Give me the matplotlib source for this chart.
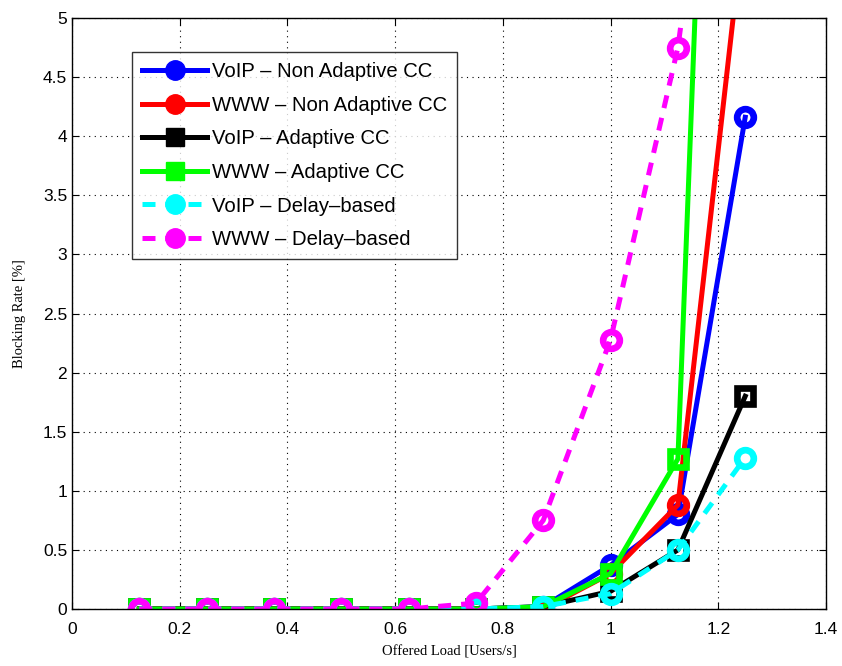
import matplotlib
matplotlib.use("Agg")
import matplotlib.pyplot as plt

load = [0.125, 0.25, 0.375, 0.5, 0.625, 0.75, 0.875, 1.0, 1.125, 1.25]
voip_nonadaptive = [0, 0, 0, 0, 0, 0, 0.02, 0.37, 0.80, 4.16]
www_nonadaptive = [0, 0, 0, 0, 0, 0, 0.0, 0.30, 0.88, 5.9]
voip_adaptive = [0, 0, 0, 0, 0, 0, 0.02, 0.15, 0.50, 1.80]
www_adaptive = [0, 0, 0, 0, 0, 0, 0.02, 0.30, 1.27, 16.0]
voip_delay = [0, 0, 0, 0, 0, 0, 0.02, 0.13, 0.50, 1.28]
www_delay = [0, 0, 0, 0, 0, 0.05, 0.75, 2.28, 4.75, 9.0]

labels = ["VoIP \u2013 Non Adaptive CC", "WWW \u2013 Non Adaptive CC",
          "VoIP \u2013 Adaptive CC", "WWW \u2013 Adaptive CC",
          "VoIP \u2013 Delay\u2013based", "WWW \u2013 Delay\u2013based"]
xticks = [0, 0.2, 0.4, 0.6, 0.8, 1.0, 1.2, 1.4]
xticklabels = ["0", "0.2", "0.4", "0.6", "0.8", "1", "1.2", "1.4"]
yticks = [0, 0.5, 1, 1.5, 2, 2.5, 3, 3.5, 4, 4.5, 5]
yticklabels = ["0", "0.5", "1", "1.5", "2", "2.5", "3", "3.5", "4", "4.5", "5"]

plt.rcParams['font.family'] = ['Liberation Sans', 'DejaVu Sans']

fig = plt.figure(figsize=(8.42, 6.66), dpi=100)
ax = fig.add_axes([72/842, 57/666, 754/842, 591/666])

series = [
    (voip_nonadaptive, 'blue', 'o', '-'),
    (www_nonadaptive, 'red', 'o', '-'),
    (voip_adaptive, 'black', 's', '-'),
    (www_adaptive, '#00ff00', 's', '-'),
    (voip_delay, 'cyan', 'o', (0, (2.6, 2.0))),
    (www_delay, 'magenta', 'o', (0, (2.6, 2.0))),
]
handles = []
for (vals, col, mk, ls), lab in zip(series, labels):
    ax.plot(load, vals, color=col, lw=3.6, ls=ls, marker=mk,
            ms=12 if mk == 'o' else 11, mfc='none', mec=col, mew=4.8)
    h, = ax.plot([], [], color=col, lw=3.6, ls=ls, marker=mk,
                 ms=14 if mk == 'o' else 13, mfc=col, mec=col, label=lab)
    handles.append(h)

ax.set_xlim(0, 1.4)
ax.set_ylim(0, 5)
ax.set_xticks(xticks)
ax.set_xticklabels(xticklabels)
ax.set_yticks(yticks)
ax.set_yticklabels(yticklabels)
ax.tick_params(direction='in', labelsize=12.5, length=5, top=True, right=True)
ax.tick_params(axis='x', pad=9)
ax.grid(True, color='black', ls=(0, (1, 4)), lw=0.8)
for s in ax.spines.values():
    s.set_linewidth(1.0)

ax.set_xlabel("Offered Load [Users/s]", family=['Liberation Serif'], fontsize=10.5, labelpad=6)
ax.set_ylabel("Blocking Rate [%]", family=['Liberation Serif'], fontsize=10.5, labelpad=12)

leg = ax.legend(handles=handles, loc='upper left', bbox_to_anchor=(0.0796, 0.9425),
                fontsize=14.6, frameon=True, fancybox=False, edgecolor='black',
                handlelength=3.2, borderaxespad=0, labelspacing=0.72, borderpad=0.5,
                handletextpad=0.25)
leg.get_frame().set_linewidth(1.0)

fig.savefig("out.png", dpi=100)
